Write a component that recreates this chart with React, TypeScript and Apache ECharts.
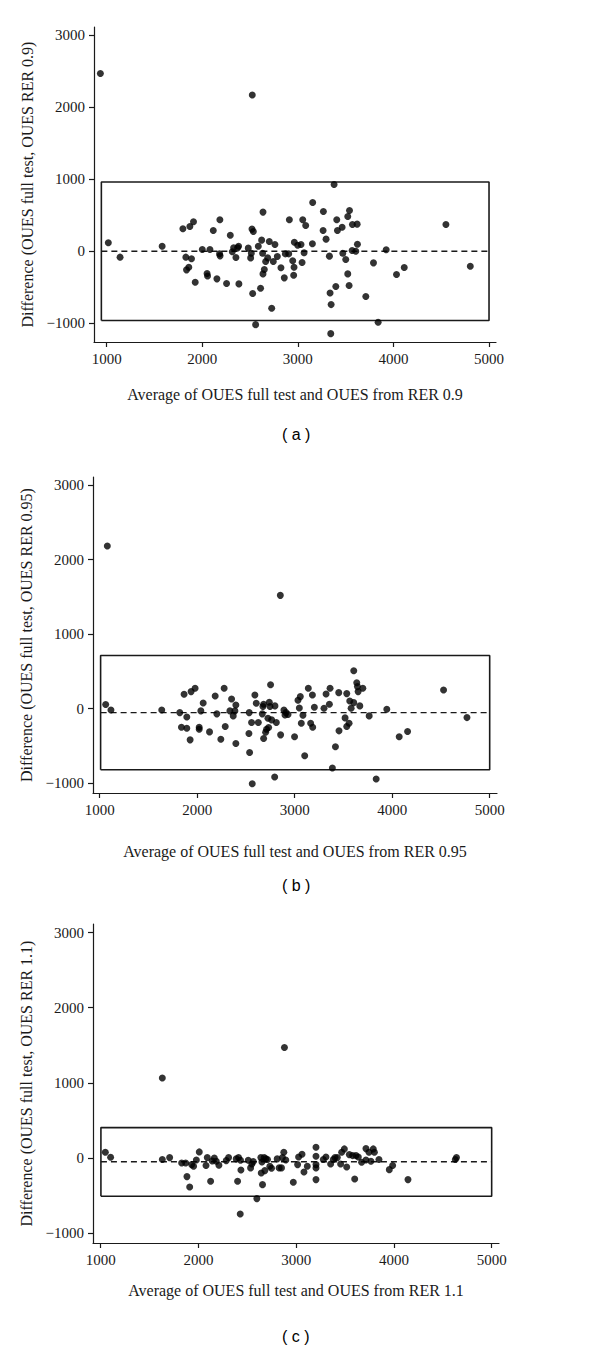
import React, { useEffect, useRef } from "react";
import * as echarts from "echarts";

const xTicks = [1000, 2000, 3000, 4000, 5000];
const yTicks = [-1000, 0, 1000, 2000, 3000];

const xTitles = [
  "Average of OUES full test and OUES from RER 0.9",
  "Average of OUES full test and OUES from RER 0.95",
  "Average of OUES full test and OUES from RER 1.1",
];
const yTitles = [
  "Difference (OUES full test, OUES RER 0.9)",
  "Difference (OUES full test, OUES RER 0.95)",
  "Difference (OUES full test, OUES RER 1.1)",
];
const panelLabels = ["( a )", "( b )", "( c )"];

// Bland-Altman summary lines (mean difference, limits of agreement, box x-extent)
const meanDiff = [0, -54, -52];
const upperLoA = [960, 714, 404];
const lowerLoA = [-962, -821, -510];
const boxLeft = [944, 1010, 1003];
const boxRight = [5000, 5000, 5000];

const pointsA: [number, number][] = [
  [934, 2464], [2523, 2167],
  [1017, 116], [1140, -83], [1580, 69], [1797, 310], [1828, -83], [1835, -259],
  [1859, -222], [1870, 343], [1887, -106], [1908, 407], [1926, -431], [2000, 23],
  [2050, -310], [2055, -345], [2080, 23], [2115, 287], [2153, -384], [2184, 435],
  [2181, -37], [2186, -65], [2254, -449], [2293, 222], [2314, -9], [2328, 46],
  [2352, -88], [2369, 46], [2380, 69], [2383, -454], [2481, 42], [2506, -93],
  [2513, -28], [2520, 306], [2534, 273], [2527, -588], [2558, -1019], [2586, 69],
  [2610, -514], [2621, 153], [2635, 542], [2631, -28], [2635, -315], [2649, -255],
  [2663, -144], [2684, -93], [2701, 134], [2726, -792], [2743, -144], [2760, 93],
  [2785, -74], [2823, -231], [2858, -370], [2869, -37], [2904, -37], [2911, 435],
  [2946, -134], [2960, -222], [2956, -333], [2963, 125], [2998, 83], [3033, 93],
  [3044, -157], [3051, 435], [3065, -23], [3082, 356], [3155, 676], [3152, 102],
  [3264, 287], [3267, 551], [3295, 167], [3330, -69], [3337, -579], [3348, -741],
  [3344, -1144], [3379, 926], [3397, -491], [3407, 435], [3414, 287], [3463, 333],
  [3470, -28], [3501, -116], [3522, 481], [3522, -315], [3540, 565], [3536, -477],
  [3571, 370], [3568, 9], [3606, 0], [3620, 375], [3623, 97], [3711, -630],
  [3791, -162], [3840, -986], [3924, 19], [4032, -324], [4113, -227], [4549, 370],
  [4804, -208],
];

const pointsB: [number, number][] = [
  [1079, 2183], [2853, 1521],
  [1062, 54], [1116, -18], [1637, -18], [1822, -54], [1839, -250], [1866, 192],
  [1894, -112], [1894, -263], [1928, -420], [1938, 228], [1979, 272], [2021, -250],
  [2021, -277], [2038, -31], [2062, 76], [2127, -313], [2185, 170], [2202, -71],
  [2243, -411], [2277, 272], [2288, -241], [2353, 129], [2336, -31], [2370, -98],
  [2387, -31], [2397, 49], [2397, -469], [2534, -54], [2531, -335], [2538, -589],
  [2558, -188], [2565, -1009], [2592, 183], [2606, 71], [2627, -188], [2668, -71],
  [2675, 27], [2682, 58], [2682, -402], [2702, -317], [2712, -277], [2726, -129],
  [2733, -254], [2740, 85], [2747, 27], [2753, 321], [2764, -152], [2798, 36],
  [2795, -920], [2812, -188], [2856, -353], [2890, -18], [2901, -85], [2911, -54],
  [2932, -80], [2999, -379], [3034, 112], [3048, 9], [3058, 161], [3068, -196],
  [3085, -89], [3103, -634], [3140, 272], [3164, -196], [3182, 183], [3185, -250],
  [3202, 18], [3301, 4], [3322, 196], [3363, 272], [3356, 58], [3387, -799],
  [3418, -513], [3452, 214], [3455, -299], [3517, -125], [3534, 201], [3534, -241],
  [3558, -196], [3565, 103], [3579, 4], [3606, 509], [3606, 80], [3637, 348],
  [3644, 295], [3651, 228], [3668, 36], [3699, 272], [3764, -98], [3836, -946],
  [3945, -9], [4072, -379], [4158, -308], [4527, 250], [4767, -121],
];

const pointsC: [number, number][] = [
  [1631, 1065], [2880, 1470],
  [1048, 76], [1102, 9], [1631, -22], [1706, 4], [1829, -67], [1870, -67],
  [1883, -249], [1911, -387], [1931, -89], [1951, -111], [1979, -27], [2009, 80],
  [2078, -102], [2091, 4], [2125, -311], [2142, -40], [2163, 0], [2183, -44],
  [2210, -98], [2285, -36], [2309, 4], [2387, -13], [2411, 4], [2401, -311],
  [2431, -31], [2435, -160], [2428, -747], [2510, -31], [2534, -133], [2547, -80],
  [2561, -49], [2598, -542], [2639, 4], [2643, -200], [2650, -53], [2656, -356],
  [2673, 4], [2680, -169], [2690, -13], [2707, -22], [2731, -111], [2748, -138],
  [2806, -13], [2826, -133], [2850, -133], [2860, 4], [2874, 76], [2894, -27],
  [2971, -324], [3015, -89], [3025, 13], [3060, 49], [3080, -187], [3114, -111],
  [3203, 142], [3203, 22], [3203, -89], [3203, -133], [3203, -289], [3278, -22],
  [3305, 13], [3353, -80], [3380, -22], [3397, 4], [3421, 4], [3455, -80],
  [3466, 76], [3493, 120], [3517, -120], [3544, 44], [3578, 31], [3599, -280],
  [3612, 31], [3636, 13], [3670, -58], [3714, 124], [3714, -27], [3745, 76],
  [3765, -44], [3789, 120], [3800, 76], [3847, -22], [3953, -156], [3987, -102],
  [4144, -289], [4628, -22], [4640, 4],
];

const allPoints = [pointsA, pointsB, pointsC];

// axis extents (value range covered by axis lines)
const xMin = [867, 932, 922];
const xMax = [5073, 5075, 5075];
const yMin = [-1260, -1134, -1133];
const yMax = [3110, 3111, 3115];

// layout
const grids = [
  { left: 94, top: 27, width: 402, height: 315 },
  { left: 93, top: 477, width: 404, height: 316 },
  { left: 93, top: 924, width: 406, height: 319 },
];
const xNameGaps = [44, 50, 39];
const panelLabelY = [435, 886, 1337];

const SERIF = "'Liberation Serif', 'Times New Roman', serif";
const INK = "#1a1a1a";

function fmt(v: number) {
  return v < 0 ? "\u2212" + Math.abs(v) : String(v);
}

export default function App() {
  const ref = useRef<HTMLDivElement>(null);
  useEffect(() => {
    document.body.style.margin = "0";
    if (!ref.current) return;
    const chart = echarts.init(ref.current, undefined, { renderer: "svg" });
    const xAxis: any[] = [];
    const yAxis: any[] = [];
    const series: any[] = [];
    for (let i = 0; i < 3; i++) {
      xAxis.push({
        type: "value",
        gridIndex: i,
        min: xMin[i],
        max: xMax[i],
        splitLine: { show: false },
        axisLine: { show: true, onZero: false, lineStyle: { color: INK, width: 1.2 } },
        axisTick: { show: true, length: 5, customValues: xTicks, lineStyle: { color: INK, width: 1.2 } },
        axisLabel: {
          customValues: xTicks,
          formatter: fmt,
          fontFamily: SERIF,
          fontSize: 15,
          color: INK,
          margin: 9,
        },
        name: xTitles[i],
        nameLocation: "middle",
        nameGap: xNameGaps[i],
        nameTextStyle: { fontFamily: SERIF, fontSize: 16, color: INK },
      });
      yAxis.push({
        type: "value",
        gridIndex: i,
        min: yMin[i],
        max: yMax[i],
        splitLine: { show: false },
        axisLine: { show: true, onZero: false, lineStyle: { color: INK, width: 1.2 } },
        axisTick: { show: true, length: 5, customValues: yTicks, lineStyle: { color: INK, width: 1.2 } },
        axisLabel: {
          customValues: yTicks,
          formatter: fmt,
          fontFamily: SERIF,
          fontSize: 15,
          color: INK,
          margin: 9,
        },
        name: yTitles[i],
        nameLocation: "middle",
        nameGap: 58,
        nameRotate: 90,
        nameTextStyle: { fontFamily: SERIF, fontSize: 16, color: INK },
      });
      series.push({
        type: "line",
        xAxisIndex: i,
        yAxisIndex: i,
        data: [
          [boxLeft[i], lowerLoA[i]],
          [boxRight[i], lowerLoA[i]],
          [boxRight[i], upperLoA[i]],
          [boxLeft[i], upperLoA[i]],
          [boxLeft[i], lowerLoA[i]],
        ],
        showSymbol: false,
        symbol: "none",
        lineStyle: { color: INK, width: 1.6 },
        silent: true,
        z: 2,
      });
      series.push({
        type: "line",
        xAxisIndex: i,
        yAxisIndex: i,
        data: [
          [boxLeft[i], meanDiff[i]],
          [boxRight[i], meanDiff[i]],
        ],
        showSymbol: false,
        symbol: "none",
        lineStyle: { color: INK, width: 1.4, type: [6, 4] },
        silent: true,
        z: 2,
      });
      series.push({
        type: "scatter",
        xAxisIndex: i,
        yAxisIndex: i,
        data: allPoints[i],
        symbol: "circle",
        symbolSize: 7,
        itemStyle: { color: "#000" },
        z: 3,
      });
    }
    const graphic = panelLabels.map((t, i) => ({
      type: "text",
      left: 282,
      top: panelLabelY[i] - 9,
      style: {
        text: t,
        font: "16px 'Liberation Sans', Arial, sans-serif",
        fill: "#000",
      },
    }));
    chart.setOption({
      animation: false,
      backgroundColor: "#fff",
      grid: grids.map((g) => ({ ...g, containLabel: false, outerBoundsMode: "none" })),
      xAxis,
      yAxis,
      series,
      graphic,
    });
    return () => chart.dispose();
  }, []);
  return <div ref={ref} style={{ width: 600, height: 1352 }} />;
}
